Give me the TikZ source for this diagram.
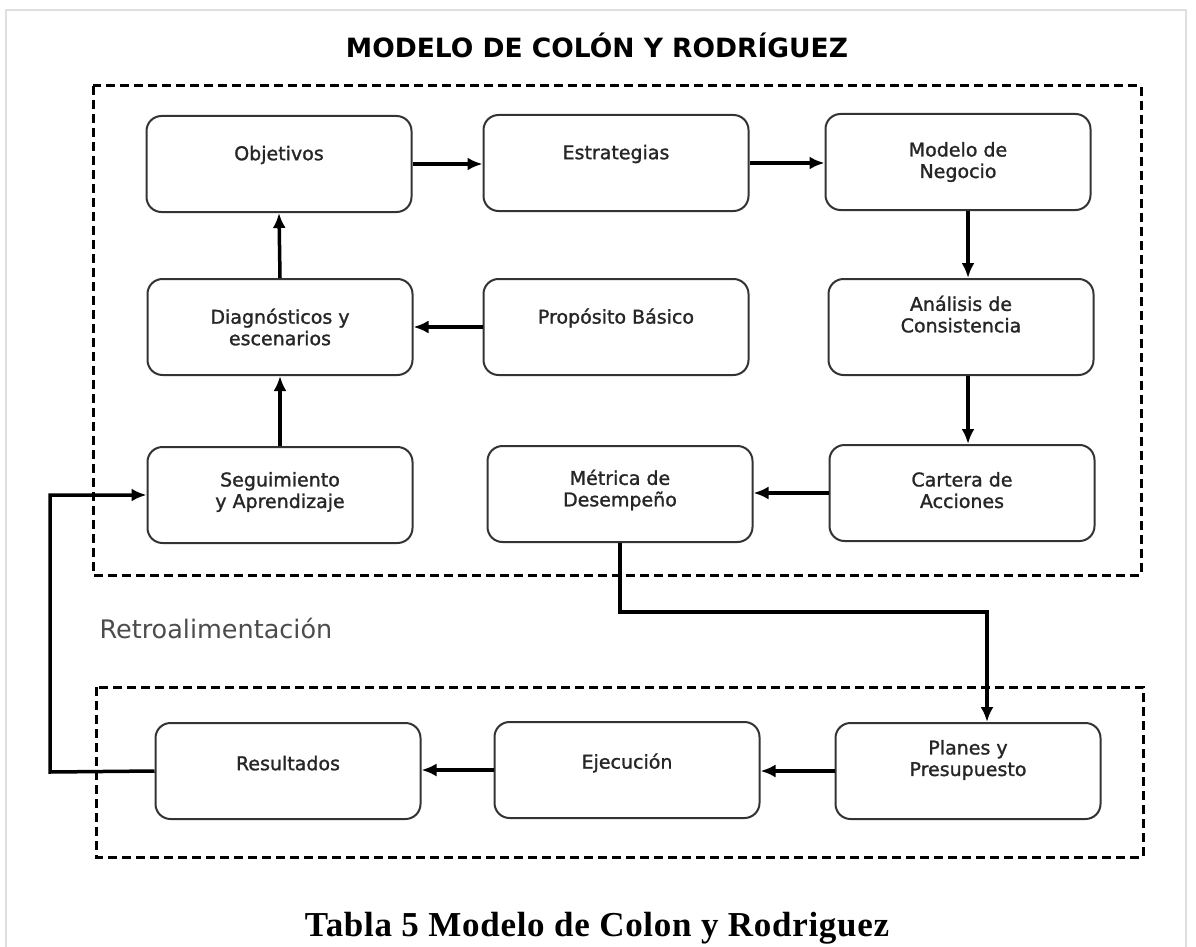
\documentclass[tikz,border=0pt]{standalone}
\usepackage{fontspec}
\setmainfont{DejaVu Sans}
\newfontfamily\cajafont{DejaVu Sans}[BoldFont=DejaVu Sans, BoldFeatures={FakeBold=1.3}]
\newfontfamily\tablafont[LetterSpace=2]{Liberation Serif}
\usetikzlibrary{arrows.meta}

\tikzset{
  caja/.style={draw=black!80, line width=2pt, rounded corners=15pt,
    minimum width=265pt, minimum height=96pt, inner sep=0pt,
    align=center, text=black!85, font=\cajafont\bfseries\fontsize{19}{21.5}\selectfont},
  sube/.style={text depth=#1},
  flecha/.style={-{Latex[length=15pt,width=13pt]}, line width=3.5pt},
  marco/.style={line width=3pt, dash pattern=on 9pt off 5pt},
}

\begin{document}
\begin{tikzpicture}[x=1pt, y=-1pt]

    % 0. Lienzo y borde tenue
    \useasboundingbox (0,0) rectangle (1196,947);
    \fill[white] (0,0) rectangle (1196,947);
    \draw[gray!25, line width=2pt] (6,10) rectangle (1186,990);

    % 1. Titulo
    \node[font=\bfseries\fontsize{26.5}{30}\selectfont] (titulo) at (597,45)
        {MODELO DE COLÓN Y RODRÍGUEZ};

    % 2. Marcos punteados
    \draw[marco] (93,86) rectangle (1141,575);
    \draw[marco] (96,687) rectangle (1143,857);

    % 3. Cajas del marco superior
    \node[caja, sube=22pt] (obj) at (279,164) {Objetivos};
    \node[caja, sube=22pt] (est) at (616,163) {Estrategias};
    \node[caja] (mod) at (958,162) {Modelo de\\Negocio};

    \node[caja] (diag) at (280,327) {Diagnósticos y\\escenarios};
    \node[caja, sube=22pt] (prop) at (616,327) {Propósito Básico};
    \node[caja, sube=26pt] (ana) at (961,327) {Análisis de\\Consistencia};

    \node[caja, sube=10pt] (seg) at (280,495) {Seguimiento\\y Aprendizaje};
    \node[caja, sube=12pt] (met) at (620,494) {Métrica de\\Desempeño};
    \node[caja, sube=6pt] (car) at (962,493) {Cartera de\\Acciones};

    % 4. Cajas del marco inferior
    \node[caja, sube=16pt] (res) at (288,771) {Resultados};
    \node[caja, sube=18pt] (eje) at (627,770) {Ejecución};
    \node[caja, sube=26pt] (pla) at (968,771) {Planes y\\Presupuesto};

    % Texto de la retroalimentacion
    \node[anchor=west, text=black!70, font=\fontsize{25.5}{29}\selectfont]
        (retro) at (96,628) {Retroalimentación};

    % 5. Flechas
    \draw[flecha] (obj.east) -- (obj.east -| est.west);
    \draw[flecha] (est.east) -- (est.east -| mod.west);
    \draw[flecha] ([xshift=10pt]mod.south) -- ([xshift=10pt]mod.south |- ana.north);
    \draw[flecha] ([xshift=7pt]ana.south) -- ([xshift=7pt]ana.south |- car.north);
    \draw[flecha] (car.west) -- (car.west -| met.east);
    \draw[flecha] (prop.west) -- (prop.west -| diag.east);
    \draw[flecha] (diag.north) -- (obj.south);
    \draw[flecha] (seg.north) -- (diag.south);

    % metrica -> planes
    \coordinate (codo) at (987,612);
    \draw[flecha] (met.south) |- (codo) -- (codo |- pla.north);

    \draw[flecha] (pla.west) -- (pla.west -| eje.east);
    \draw[flecha] (eje.west) -- (eje.west -| res.east);

    % resultados -> seguimiento
    \coordinate (izq) at (50,772);
    \draw[flecha] (res.west) -- (izq) |- (seg.west);

    % 6. Pie de figura
    \node[anchor=base, font=\tablafont\bfseries\fontsize{35}{40}\selectfont]
        (pie) at (597,936) {Tabla 5 Modelo de Colon y Rodriguez};

\end{tikzpicture}
\end{document}
